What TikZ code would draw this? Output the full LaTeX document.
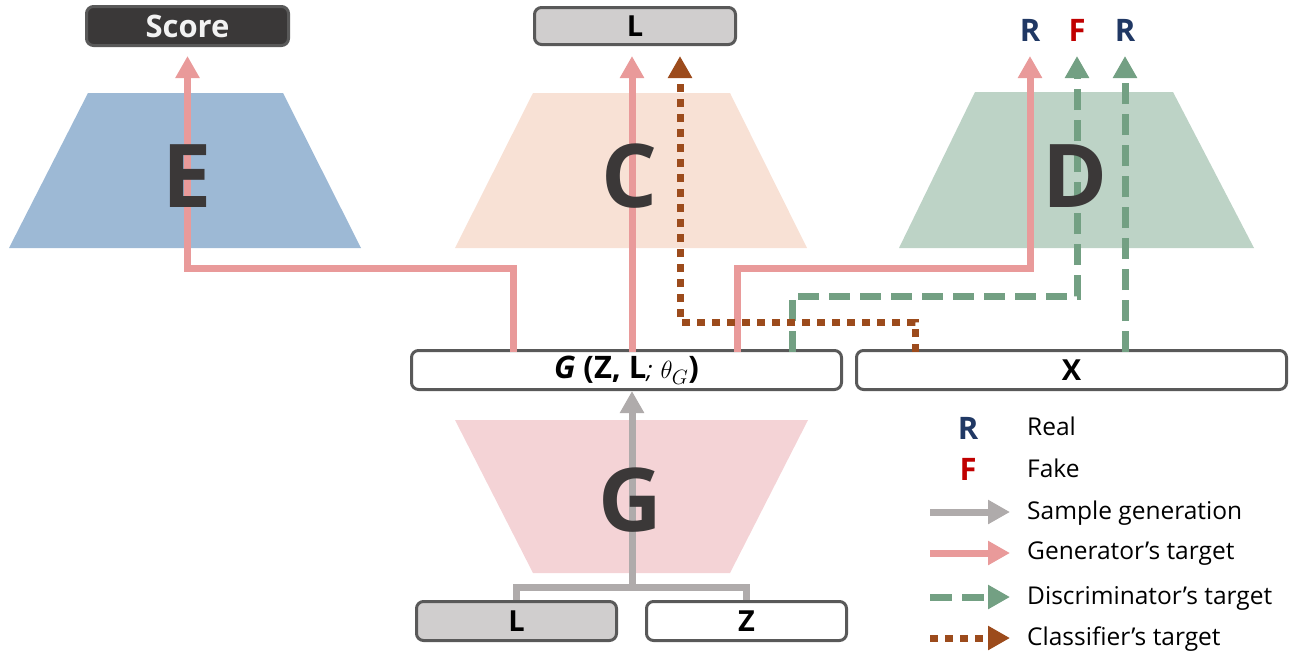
\documentclass[tikz,border=0pt]{standalone}
\usepackage{fontspec}
\setmainfont{Open Sans}
\usetikzlibrary{arrows.meta}
\definecolor{cE}{HTML}{9DB9D5}
\definecolor{cC}{HTML}{F8E1D5}
\definecolor{cD}{HTML}{BDD3C6}
\definecolor{cG}{HTML}{F4D3D6}
\definecolor{pinkc}{HTML}{E99A9A}
\definecolor{grayc}{HTML}{AFABAB}
\definecolor{greenc}{HTML}{73A083}
\definecolor{brownc}{HTML}{9C4B1C}
\definecolor{navy}{HTML}{203864}
\definecolor{darkred}{HTML}{C00000}
\definecolor{boxborder}{HTML}{595959}
\definecolor{boxgray}{HTML}{D0CECE}
\definecolor{scorefill}{HTML}{3A3838}
\definecolor{letterc}{HTML}{3B3838}
\begin{document}
\begin{tikzpicture}[x=1pt,y=-1pt,
  box/.style={draw=boxborder, line width=3pt, rounded corners=7pt, minimum height=39pt, inner sep=0pt, font=\fontsize{29}{31}\selectfont\bfseries},
  big/.style={text=letterc, font=\fontsize{88}{90}\selectfont\bfseries, inner sep=0pt},
  tip/.style={-{Triangle[length=22pt,width=23pt]}},
  pinkA/.style={tip, draw=pinkc, line width=7pt},
  grayA/.style={tip, draw=grayc, line width=7pt},
  grayL/.style={draw=grayc, line width=7pt},
  greenA/.style={tip, draw=greenc, line width=7pt, dash pattern=on 21pt off 10pt},
  brownA/.style={tip, draw=brownc, line width=7pt, dash pattern=on 8pt off 7pt},
  legtext/.style={anchor=west, font=\fontsize{24.5}{26}\selectfont, inner sep=0pt},
  rf/.style={font=\fontsize{31}{33}\selectfont\bfseries, inner sep=0pt}
]
\useasboundingbox (0,0) rectangle (1296,653);
% trapezoids
\fill[cE] (88,93) -- (283,93) -- (361,248) -- (9,248) -- cycle;
\fill[cC] (533,93) -- (730,93) -- (807,248) -- (455,248) -- cycle;
\fill[cD] (975,92) -- (1173,92) -- (1254,248) -- (899,248) -- cycle;
\fill[cG] (455,420) -- (808,420) -- (730,573) -- (533,573) -- cycle;
% boxes
\node[box, fill=scorefill, text=white!95!black, minimum width=202pt, font=\fontsize{31}{33}\selectfont\bfseries] (Score) at (187.5,26) {Score};
\node[box, fill=boxgray, minimum width=201pt, minimum height=37pt] (Ltop) at (635,26) {L};
\node[box, fill=white, minimum width=430pt, font=\fontsize{31}{33}\selectfont\bfseries] (Gbox) at (626.5,370) {\textit{G} (Z,~L{\mdseries\itshape\fontsize{24}{26}\selectfont;} $\theta_G$)};
\node[box, fill=white, minimum width=430pt] (X) at (1071.5,370) {X};
\node[box, fill=boxgray, minimum width=200pt] (Lb) at (516.5,621) {L};
\node[box, fill=white, minimum width=200pt] (Z) at (746.5,621) {Z};
% top labels
\node[rf, text=navy] (R1) at (1030,30) {R};
\node[rf, text=darkred] (F1) at (1077,30) {F};
\node[rf, text=navy] (R2) at (1125,30) {R};
% coordinates
\coordinate (gE) at (513,352);
\coordinate (gC) at (632,352);
\coordinate (gD) at (737,352);
\coordinate (gDd) at (792,352);
\coordinate (xC) at (915,352);
\coordinate (xD) at (1125,352);
\coordinate (tR1) at (1030,56);
\coordinate (tF) at (1077,56);
\coordinate (tR2) at (1125,56);
\coordinate (tC) at (680,56);
\coordinate (gs) at (632,587);
% connectors
\draw[grayL] (Lb.north) |- (Z.north |- gs) -- (Z.north);
\draw[grayA] (gs) -- (gs |- Gbox.south);
\draw[pinkA, shorten >=9pt] (gE) |- (Score.south |- 0,268) -- (Score.south);
\draw[pinkA] (gC) -- (632,56);
\draw[pinkA] (gD) |- (tR1 |- 0,268) -- (tR1);
\draw[greenA] (gDd) |- (tF |- 0,296) -- (tF);
\draw[greenA] (xD) -- (tR2);
\draw[brownA] (xC) |- (tC |- 0,322) -- (tC);
% big letters
\node[big] (E) at (187,176) {E};
\node[big] (C) at (630,176) {C};
\node[big] (D) at (1075,176) {D};
\node[big] (G) at (630,500) {G};
% legend
\node[rf, text=navy] (lR) at (968,428) {R};
\node[rf, text=darkred] (lF) at (968,469) {F};
\node[legtext] (tReal) at (1027,426) {Real};
\node[legtext] (tFake) at (1027,468) {Fake};
\node[legtext] (tS) at (1027,513) {Sample generation};
\node[legtext] (tG) at (1027,554) {Generator’s target};
\node[legtext] (tD) at (1027,598) {Discriminator’s target};
\node[legtext] (tCl) at (1027,639) {Classifier’s target};
\coordinate (a1) at (930,512); \coordinate (a2) at (930,553);
\coordinate (a3) at (930,597); \coordinate (a4) at (930,638);
\draw[grayA] (a1) -- (a1 -| 1010,0);
\draw[pinkA] (a2) -- (a2 -| 1010,0);
\draw[greenA, dash pattern=on 22pt off 10pt] (a3) -- (a3 -| 1010,0);
\draw[brownA] (a4) -- (a4 -| 1010,0);
\end{tikzpicture}
\end{document}
